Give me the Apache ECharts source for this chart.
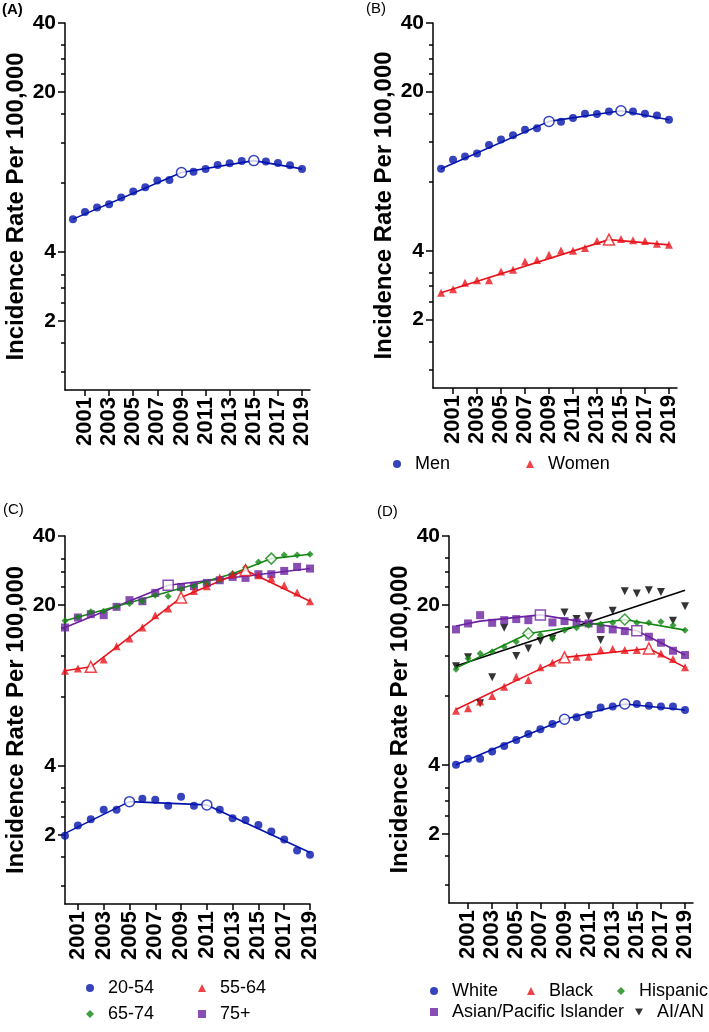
<!DOCTYPE html>
<html>
<head>
<meta charset="utf-8">
<script src="https://cdn.jsdelivr.net/npm/echarts@6/dist/echarts.min.js"></script>
<style>
  html, body { margin: 0; padding: 0; background: #fff; }
  #myChart { width: 709px; height: 1032px; }
</style>
</head>
<body>
<div id="myChart"></div>
<script>
var years = [2000, 2001, 2002, 2003, 2004, 2005, 2006, 2007, 2008, 2009, 2010, 2011, 2012, 2013, 2014, 2015, 2016, 2017, 2018, 2019];
var xTicks = [2001, 2003, 2005, 2007, 2009, 2011, 2013, 2015, 2017, 2019];
var yLabels = [2, 4, 20, 40];
var yMinorTicks = [1.2, 1.6, 2.4, 2.8, 3.2, 8, 12, 16, 24, 28, 32];

// (A) all
var allRate = [5.57, 5.99, 6.26, 6.47, 6.92, 7.35, 7.67, 8.21, 8.26, 8.90, 8.96, 9.23, 9.61, 9.77, 10.0, 10.03, 9.93, 9.80, 9.57, 9.23];
var allFitYears = [2000, 2009, 2015, 2019];
var allFit = [5.57, 8.90, 10.03, 9.23];
var allJoin = [2009, 2015];

// (B) sex
var menRate = [9.17, 10.03, 10.37, 10.70, 11.66, 12.31, 12.85, 13.60, 13.79, 14.80, 14.75, 15.31, 15.98, 15.93, 16.37, 16.47, 16.37, 15.98, 15.72, 15.04];
var menFitYears = [2000, 2009, 2015, 2019];
var menFit = [9.17, 14.80, 16.47, 15.04];
var menJoin = [2009, 2015];
var womenRate = [2.62, 2.71, 2.90, 2.97, 2.97, 3.25, 3.30, 3.59, 3.65, 3.84, 4.01, 4.00, 4.12, 4.42, 4.48, 4.51, 4.45, 4.42, 4.30, 4.25];
var womenFitYears = [2000, 2014, 2019];
var womenFit = [2.62, 4.48, 4.25];
var womenJoin = [2014];

// (C) age
var age1Rate = [1.98, 2.195, 2.34, 2.57, 2.57, 2.79, 2.87, 2.84, 2.68, 2.93, 2.68, 2.70, 2.57, 2.36, 2.32, 2.21, 2.07, 1.91, 1.71, 1.64];
var age1FitYears = [2000, 2005, 2011, 2019];
var age1Fit = [2.03, 2.79, 2.70, 1.675];
var age1Join = [2005, 2011];
var age2Rate = [10.36, 10.61, 10.78, 11.60, 13.26, 14.32, 15.99, 18.09, 19.33, 21.59, 23.07, 24.18, 26.37, 27.27, 28.38, 26.98, 26.10, 24.42, 22.69, 20.80];
var age2FitYears = [2000, 2002, 2009, 2014, 2019];
var age2Fit = [10.36, 10.78, 21.59, 28.38, 20.80];
var age2Join = [2002, 2009, 2014];
var age3Rate = [17.09, 17.78, 18.70, 18.82, 19.66, 20.32, 20.80, 22.10, 21.87, 23.46, 24.17, 24.83, 25.67, 27.45, 29.15, 30.84, 31.89, 33.09, 33.09, 33.31];
var age3FitYears = [2000, 2013, 2016, 2019];
var age3Fit = [17.1, 27.4, 31.89, 33.3];
var age3Join = [2016];
var age4Rate = [15.99, 17.67, 18.27, 18.09, 19.66, 21.02, 20.80, 22.61, 24.42, 24.0, 24.18, 25.0, 25.67, 26.54, 26.28, 27.27, 27.27, 28.19, 29.35, 28.86];
var age4FitYears = [2000, 2008, 2019];
var age4Fit = [16.0, 24.42, 28.9];
var age4Join = [2008];

// (D) race / ethnicity
var whiteRate = [4.01, 4.26, 4.26, 4.58, 4.85, 5.15, 5.46, 5.73, 6.05, 6.34, 6.47, 6.62, 7.13, 7.20, 7.39, 7.39, 7.27, 7.20, 7.20, 6.96];
var whiteFitYears = [2000, 2009, 2014, 2019];
var whiteFit = [4.01, 6.34, 7.39, 6.96];
var whiteJoin = [2009, 2014];
var blackRate = [6.91, 7.08, 7.57, 8.01, 8.80, 9.72, 9.41, 10.68, 11.19, 11.81, 11.88, 11.88, 12.71, 12.84, 12.71, 12.71, 12.92, 12.29, 11.61, 10.68];
var blackFitYears = [2000, 2009, 2016, 2019];
var blackFit = [7.0, 11.81, 12.92, 10.68];
var blackJoin = [2009, 2016];
var hispRate = [10.47, 11.69, 12.29, 12.49, 13.14, 13.81, 15.02, 14.77, 14.29, 15.53, 15.90, 16.33, 16.49, 16.71, 17.29, 16.71, 16.71, 16.88, 16.33, 15.53];
var hispFitYears = [2000, 2006, 2014, 2019];
var hispFit = [10.6, 15.02, 17.29, 15.53];
var hispJoin = [2006, 2014];
var apiRate = [15.64, 16.61, 18.05, 16.71, 17.17, 17.35, 17.17, 18.24, 16.78, 17.01, 16.78, 16.61, 15.69, 15.64, 15.38, 15.42, 14.53, 13.68, 12.62, 12.09];
var apiFitYears = [2000, 2002, 2007, 2015, 2019];
var apiFit = [16.2, 17.0, 18.1, 15.42, 12.1];
var apiJoin = [2007, 2015];
var aianRate = [10.8, 11.81, 7.44, 9.66, 15.90, 11.97, 12.92, 13.91, 14.29, 18.55, 17.35, 17.87, 14.05, 18.86, 22.97, 22.44, 23.20, 22.81, 17.05, 19.76];
var aianFitYears = [2000, 2019];
var aianFit = [10.82, 23.2];
var aianJoin = [];

var BLUE = '#0414ac';
var RED = '#e8141c';
var GREEN = '#138613';
var PURPLE = '#6c22a0';
var BLACK = '#000';
var DOWN = 'path://M0,0 L10,0 L5,9 Z';

function observed(name, rate, join, color, symbol, size, g) {
  var data = [];
  for (var i = 0; i < years.length; i++) {
    if (join.indexOf(years[i]) < 0) data.push([years[i], rate[i]]);
  }
  return {
    name: name, type: 'scatter', xAxisIndex: g, yAxisIndex: g * 2,
    symbol: symbol, symbolSize: size, itemStyle: { color: color },
    data: data, z: 3
  };
}

function fitted(fitYears, fit, color, g) {
  var data = [];
  for (var i = 0; i < fitYears.length; i++) data.push([fitYears[i], fit[i]]);
  return {
    type: 'line', xAxisIndex: g, yAxisIndex: g * 2, symbol: 'none',
    lineStyle: { color: color, width: 1.6 }, data: data, z: 2
  };
}

function joinpoints(fitYears, fit, join, color, symbol, size, g) {
  var data = [];
  for (var i = 0; i < join.length; i++) {
    data.push([join[i], fit[fitYears.indexOf(join[i])]]);
  }
  return {
    type: 'scatter', xAxisIndex: g, yAxisIndex: g * 2,
    symbol: symbol, symbolSize: size,
    itemStyle: { color: '#fff', borderColor: color, borderWidth: 1.5 },
    data: data, z: 4
  };
}

function xAxis(g, min, max) {
  return {
    type: 'value', gridIndex: g, min: min, max: max,
    axisLine: { show: true, onZero: false, lineStyle: { color: '#000', width: 1.5 } },
    axisTick: { show: true, length: 6, customValues: xTicks, lineStyle: { color: '#000', width: 1.5 } },
    axisLabel: {
      customValues: xTicks, rotate: 90, margin: 7,
      fontSize: 22, fontWeight: 'bold', color: '#000',
      formatter: function (v) { return String(v); }
    },
    splitLine: { show: false }
  };
}

function yAxes(g) {
  return [{
    type: 'log', gridIndex: g, min: 1, max: 40, position: 'left',
    name: 'Incidence Rate Per 100,000', nameLocation: 'middle', nameGap: 37,
    nameTextStyle: { fontSize: 24, fontWeight: 'bold', color: '#000' },
    axisLine: { show: true, lineStyle: { color: '#000', width: 1.5 } },
    axisTick: { show: true, length: 7, customValues: yLabels, lineStyle: { color: '#000', width: 1.5 } },
    axisLabel: { customValues: yLabels, margin: 9, fontSize: 21, fontWeight: 'bold', color: '#000' },
    splitLine: { show: false }
  }, {
    type: 'log', gridIndex: g, min: 1, max: 40, position: 'left', offset: 0,
    axisLine: { show: false },
    axisTick: { show: true, length: 4, customValues: yMinorTicks, lineStyle: { color: '#000', width: 1.5 } },
    axisLabel: { show: false },
    splitLine: { show: false }
  }];
}

// one legend per item so every entry sits where the figure has it
function legendItem(name, iconX, centerY) {
  return {
    data: [name], left: iconX - 4, top: centerY - 10, padding: 0,
    itemWidth: 8, itemHeight: 8, selectedMode: false,
    textStyle: { fontSize: 18, color: '#000', padding: [0, 0, 0, 9] }
  };
}

function initChart() {
  var chartDom = document.getElementById('myChart');
  var myChart = echarts.init(chartDom);
  var option;

  option = {
    animation: false,
    textStyle: { fontFamily: 'Liberation Sans' },
    title: [
      { text: '(A)', left: 2, top: 2, padding: 0, textStyle: { fontSize: 15, fontWeight: 'bold', color: '#000' } },
      { text: '(B)', left: 366, top: 1, padding: 0, textStyle: { fontSize: 15, fontWeight: 'normal', color: '#000' } },
      { text: '(C)', left: 3, top: 502, padding: 0, textStyle: { fontSize: 15, fontWeight: 'normal', color: '#000' } },
      { text: '(D)', left: 377, top: 504, padding: 0, textStyle: { fontSize: 15, fontWeight: 'normal', color: '#000' } }
    ],
    grid: [
      { left: 65, top: 23, width: 245, height: 367, outerBoundsMode: 'none' },
      { left: 433, top: 23, width: 244, height: 365, outerBoundsMode: 'none' },
      { left: 65, top: 536, width: 245, height: 368, outerBoundsMode: 'none' },
      { left: 449, top: 536, width: 244, height: 367, outerBoundsMode: 'none' }
    ],
    xAxis: [
      xAxis(0, 1999.34, 2019.66),
      xAxis(1, 1999.33, 2019.67),
      xAxis(2, 2000, 2019),
      xAxis(3, 1999.42, 2019.66)
    ],
    yAxis: [].concat(yAxes(0), yAxes(1), yAxes(2), yAxes(3)),
    legend: [
      legendItem('Men', 397, 465),
      legendItem('Women', 530, 465),
      legendItem('20-54', 90, 989),
      legendItem('55-64', 202, 989),
      legendItem('65-74', 90, 1015),
      legendItem('75+', 202, 1015),
      legendItem('White', 434, 992),
      legendItem('Black', 531, 992),
      legendItem('Hispanic', 621, 992),
      legendItem('Asian/Pacific Islander', 434, 1013),
      legendItem('AI/AN', 639, 1013)
    ],
    series: [
      // A
      fitted(allFitYears, allFit, BLUE, 0),
      observed('All', allRate, allJoin, BLUE, 'circle', 8, 0),
      joinpoints(allFitYears, allFit, allJoin, BLUE, 'circle', 10, 0),
      // B
      fitted(menFitYears, menFit, BLUE, 1),
      fitted(womenFitYears, womenFit, RED, 1),
      observed('Men', menRate, menJoin, BLUE, 'circle', 8, 1),
      observed('Women', womenRate, womenJoin, RED, 'triangle', 8, 1),
      joinpoints(menFitYears, menFit, menJoin, BLUE, 'circle', 10, 1),
      joinpoints(womenFitYears, womenFit, womenJoin, RED, 'triangle', 11, 1),
      // C
      fitted(age4FitYears, age4Fit, PURPLE, 2),
      fitted(age3FitYears, age3Fit, GREEN, 2),
      fitted(age2FitYears, age2Fit, RED, 2),
      fitted(age1FitYears, age1Fit, BLUE, 2),
      observed('75+', age4Rate, age4Join, PURPLE, 'rect', 8, 2),
      observed('65-74', age3Rate, age3Join, GREEN, 'diamond', 7, 2),
      observed('55-64', age2Rate, age2Join, RED, 'triangle', 8, 2),
      observed('20-54', age1Rate, age1Join, BLUE, 'circle', 8, 2),
      joinpoints(age4FitYears, age4Fit, age4Join, PURPLE, 'rect', 10, 2),
      joinpoints(age3FitYears, age3Fit, age3Join, GREEN, 'diamond', 11, 2),
      joinpoints(age2FitYears, age2Fit, age2Join, RED, 'triangle', 11, 2),
      joinpoints(age1FitYears, age1Fit, age1Join, BLUE, 'circle', 10, 2),
      // D
      fitted(aianFitYears, aianFit, BLACK, 3),
      fitted(apiFitYears, apiFit, PURPLE, 3),
      fitted(hispFitYears, hispFit, GREEN, 3),
      fitted(blackFitYears, blackFit, RED, 3),
      fitted(whiteFitYears, whiteFit, BLUE, 3),
      observed('AI/AN', aianRate, aianJoin, BLACK, DOWN, 8, 3),
      observed('Asian/Pacific Islander', apiRate, apiJoin, PURPLE, 'rect', 8, 3),
      observed('Hispanic', hispRate, hispJoin, GREEN, 'diamond', 7, 3),
      observed('Black', blackRate, blackJoin, RED, 'triangle', 8, 3),
      observed('White', whiteRate, whiteJoin, BLUE, 'circle', 8, 3),
      joinpoints(apiFitYears, apiFit, apiJoin, PURPLE, 'rect', 10, 3),
      joinpoints(hispFitYears, hispFit, hispJoin, GREEN, 'diamond', 11, 3),
      joinpoints(blackFitYears, blackFit, blackJoin, RED, 'triangle', 11, 3),
      joinpoints(whiteFitYears, whiteFit, whiteJoin, BLUE, 'circle', 10, 3)
    ]
  };
  option && myChart.setOption(option);
}

initChart();
</script>
</body>
</html>
